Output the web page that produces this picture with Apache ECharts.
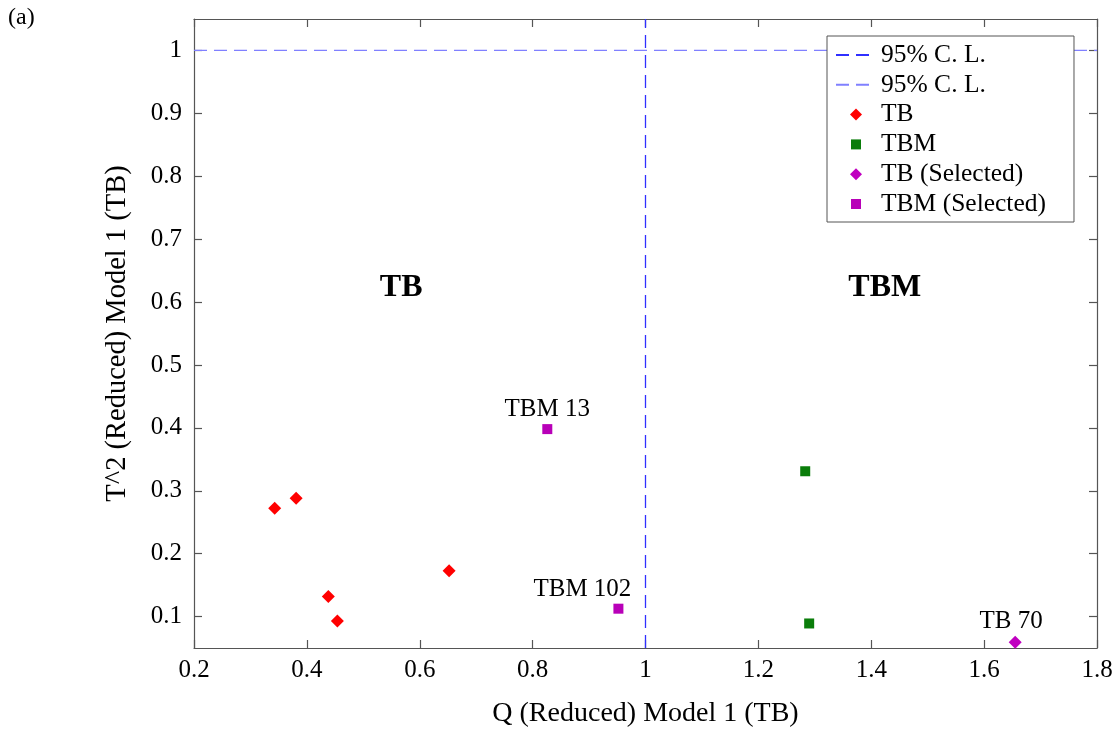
<!DOCTYPE html>
<html>
<head>
<meta charset="utf-8">
<script src="https://cdn.jsdelivr.net/npm/echarts@6/dist/echarts.min.js"></script>
<style>html,body{margin:0;padding:0;background:#fff}#c{width:1119px;height:733px}</style>
</head>
<body>
<div id="c"></div>
<script>
// ---- data ----
var tbQ = [0.343, 0.381, 0.438, 0.454, 0.652];
var tbT2 = [0.272, 0.288, 0.132, 0.093, 0.173];
var tbmQ = [1.283, 1.290];
var tbmT2 = [0.331, 0.089];
var tbSelQ = [1.655];
var tbSelT2 = [0.059];
var tbSelNames = ['TB 70'];
var tbmSelQ = [0.826, 0.952];
var tbmSelT2 = [0.398, 0.1125];
var tbmSelNames = ['TBM 13', 'TBM 102'];
var clQ = 1;   // 95% confidence limit on Q
var clT2 = 1;  // 95% confidence limit on T^2
var regionNames = ['TB', 'TBM'];
var regionQ = [0.567, 1.424];
var regionT2 = [0.622, 0.622];
var yTicks = [0.1, 0.2, 0.3, 0.4, 0.5, 0.6, 0.7, 0.8, 0.9, 1];
var xMin = 0.2, xMax = 1.8, yMin = 0.05, yMax = 1.05;

function zip(a, b) { return a.map(function (v, i) { return [v, b[i]]; }); }
var FONT = 'Liberation Serif';
var selLabelOffsets = { 'TBM 13': [0, 0], 'TBM 102': [-36, 0], 'TB 70': [-4, 0] };
function named(q, t, names) {
  return q.map(function (v, i) {
    return { name: names[i], value: [v, t[i]], label: { show: true, position: 'top', distance: 2, offset: selLabelOffsets[names[i]] || [0, 0], formatter: '{b}', color: '#000', fontFamily: FONT, fontSize: 25 } };
  });
}
var DIAMOND = 'path://M0,0M14,14M7,1L13,7L7,13L1,7Z';
var SQUARE = 'path://M0,0M14,14M2,2L12,2L12,12L2,12Z';

var chart = echarts.init(document.getElementById('c'), null, { renderer: 'canvas' });
var axisLineStyle = { color: '#555', width: 1.2 };
var option = {
  backgroundColor: '#fff',
  animation: false,
  textStyle: { fontFamily: FONT },
  graphic: [{ type: 'text', left: 8, top: 6, style: { text: '(a)', font: '24px "Liberation Serif"', fill: '#000' } }],
  grid: { left: 194, right: 22, top: 19, bottom: 75, containLabel: false },
  legend: {
    orient: 'vertical', left: 827, top: 36,
    padding: [6, 28, 5, 8],
    itemWidth: 40, itemHeight: 14, itemGap: 3.8,
    symbolKeepAspect: true,
    borderColor: '#555', borderWidth: 1, backgroundColor: '#fff',
    textStyle: { fontFamily: FONT, fontSize: 25.5, color: '#000' },
    data: [
      { name: '95% C. L.', itemStyle: { opacity: 0 } },
      { name: '95% C. L. ', itemStyle: { opacity: 0 } },
      { name: 'TB', icon: DIAMOND },
      { name: 'TBM', icon: SQUARE },
      { name: 'TB (Selected)', icon: DIAMOND },
      { name: 'TBM (Selected)', icon: SQUARE }
    ]
  },
  xAxis: [{
    type: 'value', min: xMin, max: xMax, interval: 0.2,
    name: 'Q (Reduced) Model 1 (TB)', nameLocation: 'middle', nameGap: 52,
    nameTextStyle: { fontFamily: FONT, fontSize: 28, color: '#000' },
    axisLine: { show: true, lineStyle: axisLineStyle },
    axisTick: { show: true, inside: true, length: 8, lineStyle: axisLineStyle },
    axisLabel: { fontFamily: FONT, fontSize: 25, color: '#000', margin: 10, formatter: function (v) { return String(Math.round(v * 10) / 10); } },
    splitLine: { show: false }
  }, {
    type: 'value', position: 'top', min: xMin, max: xMax, interval: 0.2,
    axisLine: { show: true, lineStyle: axisLineStyle },
    axisTick: { show: true, inside: true, length: 8, lineStyle: axisLineStyle },
    axisLabel: { show: false }, splitLine: { show: false }
  }],
  yAxis: [{
    type: 'value', min: yMin, max: yMax,
    name: 'T^2 (Reduced) Model 1 (TB)', nameLocation: 'middle', nameGap: 62,
    nameTextStyle: { fontFamily: FONT, fontSize: 28.5, color: '#000' },
    axisLine: { show: true, lineStyle: axisLineStyle },
    axisTick: { show: true, inside: true, length: 8, lineStyle: axisLineStyle, customValues: yTicks },
    axisLabel: { fontFamily: FONT, fontSize: 25, color: '#000', margin: 12, customValues: yTicks, formatter: function (v) { return String(Math.round(v * 10) / 10); } },
    splitLine: { show: false }
  }, {
    type: 'value', position: 'right', min: yMin, max: yMax,
    axisLine: { show: true, lineStyle: axisLineStyle },
    axisTick: { show: true, inside: true, length: 8, lineStyle: axisLineStyle, customValues: yTicks },
    axisLabel: { show: false, customValues: yTicks }, splitLine: { show: false }
  }],
  series: [
    {
      name: '95% C. L.', type: 'line', symbol: 'none', showSymbol: false, xAxisIndex: 0, yAxisIndex: 0,
      data: [[clQ, yMin], [clQ, yMax]],
      lineStyle: { color: '#3030ff', width: 1.3, type: [13, 7] }, itemStyle: { color: '#3030ff' }, z: 1
    },
    {
      name: '95% C. L. ', type: 'line', symbol: 'none', showSymbol: false, xAxisIndex: 0, yAxisIndex: 0,
      data: [[xMin, clT2], [xMax, clT2]],
      lineStyle: { color: '#8080ff', width: 1.3, type: [13, 7] }, itemStyle: { color: '#8080ff' }, z: 1
    },
    { name: 'TB', type: 'scatter', symbol: 'diamond', symbolSize: 13, itemStyle: { color: '#ff0000', opacity: 1 }, data: zip(tbQ, tbT2), z: 3 },
    { name: 'TBM', type: 'scatter', symbol: 'rect', symbolSize: 10, itemStyle: { color: '#0a7d0a', opacity: 1 }, data: zip(tbmQ, tbmT2), z: 3 },
    { name: 'TB (Selected)', type: 'scatter', symbol: 'diamond', symbolSize: 13, itemStyle: { color: '#c000c0', opacity: 1 }, data: named(tbSelQ, tbSelT2, tbSelNames), z: 3 },
    { name: 'TBM (Selected)', type: 'scatter', symbol: 'rect', symbolSize: 10, itemStyle: { color: '#b800b8', opacity: 1 }, data: named(tbmSelQ, tbmSelT2, tbmSelNames), z: 3 },
    {
      name: 'regions', type: 'scatter', symbolSize: 0, silent: true, z: 4,
      itemStyle: { opacity: 1 },
      data: regionQ.map(function (q, i) { return { name: regionNames[i], value: [q, regionT2[i]] }; }),
      label: { show: true, position: 'inside', formatter: '{b}', fontFamily: FONT, fontWeight: 'bold', fontSize: 32, color: '#000' }
    }
  ]
};
chart.setOption(option);
</script>
</body>
</html>
